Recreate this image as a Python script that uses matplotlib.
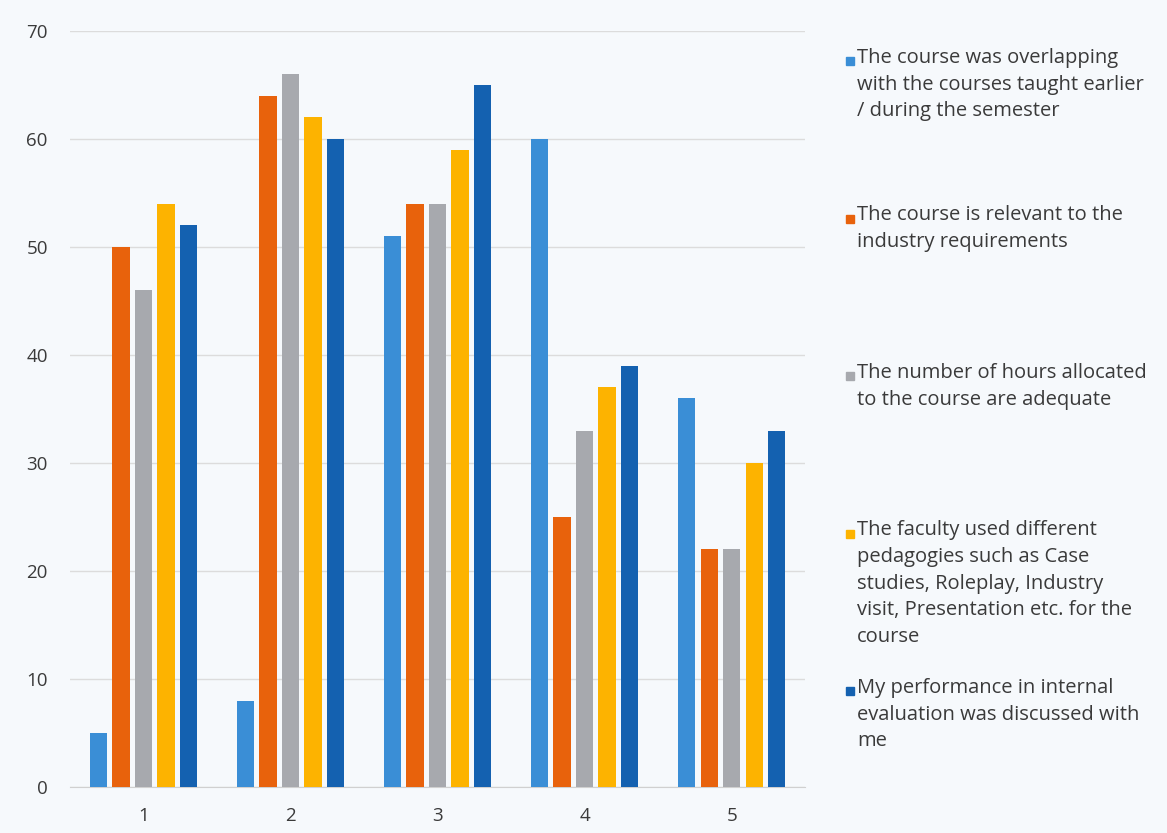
import numpy as np
import matplotlib.pyplot as plt
from matplotlib.patches import Rectangle

# Survey responses per question group
groups = ["1", "2", "3", "4", "5"]
overlapping = [5, 8, 51, 60, 36]
relevant = [50, 64, 54, 25, 22]
hours = [46, 66, 54, 33, 22]
pedagogies = [54, 62, 59, 37, 30]
performance = [52, 60, 65, 39, 33]

series_labels = [
    "The course was overlapping\nwith the courses taught earlier\n/ during the semester",
    "The course is relevant to the\nindustry requirements",
    "The number of hours allocated\nto the course are adequate",
    "The faculty used different\npedagogies such as Case\nstudies, Roleplay, Industry\nvisit, Presentation etc. for the\ncourse",
    "My performance in internal\nevaluation was discussed with\nme",
]
colors = ["#3a8ed6", "#e8620c", "#a7a9ae", "#fdb300", "#1461b0"]
series = [overlapping, relevant, hours, pedagogies, performance]

plt.rcParams["font.family"] = ["Open Sans", "DejaVu Sans"]
bg = "#f6f9fc"
txt = "#3a3a3a"

fig = plt.figure(figsize=(11.67, 8.33), dpi=100, facecolor=bg)
ax = fig.add_axes([0.060, 0.055, 0.630, 0.908], facecolor=bg)

x = np.arange(1, len(groups) + 1)
step = 0.153
width = 0.118
for i, (vals, col) in enumerate(zip(series, colors)):
    ax.bar(x + (i - 2) * step, vals, width=width, color=col, zorder=3)

ax.set_xlim(0.5, 5.5)
ax.set_ylim(0, 70)
ax.set_yticks(range(0, 71, 10))
ax.set_xticks(x)
ax.set_xticklabels(groups)
ax.grid(axis="y", color="#dcdcdc", linewidth=1.0, zorder=0)
for s in ["top", "right", "left"]:
    ax.spines[s].set_visible(False)
ax.spines["bottom"].set_color("#d0d0d0")
ax.tick_params(length=0, labelsize=13.5, colors=txt)
ax.tick_params(axis="y", pad=16)
ax.tick_params(axis="x", pad=14)

# Legend entries spaced evenly down the right side (pixel positions)
W, H = 1167.0, 833.0
top_px = 61
gap_px = 157.5
for i, (lab, col) in enumerate(zip(series_labels, colors)):
    yc = top_px + i * gap_px
    fig.patches.append(Rectangle((846 / W, 1 - (yc + 4) / H), 8 / W, 8 / H,
                                 transform=fig.transFigure, color=col))
    fig.text(857 / W, 1 - (yc - 13) / H, lab, fontsize=14.5, color=txt,
             va="top", ha="left", linespacing=1.44)

fig.savefig("out.png", dpi=100, facecolor=bg)
